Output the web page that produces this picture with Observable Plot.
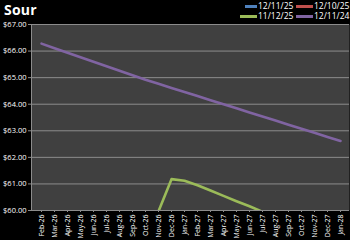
<!DOCTYPE html>
<html><head><meta charset="utf-8">
<script src="https://cdn.jsdelivr.net/npm/d3@7"></script>
<script src="https://cdn.jsdelivr.net/npm/@observablehq/plot@0.6"></script>
<style>
html,body{margin:0;padding:0;background:#000;}
#wrap{position:relative;width:350px;height:240px;background:#000;overflow:hidden;font-family:"Open Sans",sans-serif;color:#fff;}
#title{position:absolute;left:4px;top:0px;font-size:14px;font-weight:bold;letter-spacing:0.2px;}
.leg{position:absolute;font-size:8.5px;color:#fff;line-height:10px;white-space:nowrap;}
.leg span{display:inline-block;vertical-align:middle;height:2.5px;margin-right:1px;}
</style></head>
<body><div id="wrap"><div id="title">Sour</div><div id="legend"></div></div>
<script>
const months = ["Feb-26","Mar-26","Apr-26","May-26","Jun-26","Jul-26","Aug-26","Sep-26","Oct-26","Nov-26","Dec-26","Jan-27","Feb-27","Mar-27","Apr-27","May-27","Jun-27","Jul-27","Aug-27","Sep-27","Oct-27","Nov-27","Dec-27","Jan-28"];
const seriesNames = ["12/11/25","12/10/25","11/12/25","12/11/24"];
const seriesColors = ["#4f81bd","#c0504d","#9bbb59","#8064a2"];
const s121125 = months.map(() => null);
const s121025 = months.map(() => null);
const s111225 = [null,null,null,null,null,null,null,null,null,59.97,61.18,61.12,60.95,60.75,60.55,60.35,60.16,59.95,null,null,null,null,null,null];
const s121124 = [66.28,66.11,65.94,65.77,65.60,65.43,65.26,65.09,64.92,64.77,64.61,64.46,64.31,64.15,64.00,63.85,63.69,63.54,63.39,63.23,63.08,62.93,62.77,62.62];
const yTicks = [60,61,62,63,64,65,66,67];

const allSeries = [s121125, s121025, s111225, s121124];
const rows = [];
allSeries.forEach((vals, si) => vals.forEach((v, i) => rows.push({month: months[i], series: seriesNames[si], value: v})));

const chart = Plot.plot({
  width: 350, height: 240,
  marginTop: 24, marginBottom: 30, marginLeft: 31, marginRight: 1,
  style: {background: "#000", color: "#fff", fontFamily: "'Open Sans',sans-serif", fontSize: "7px"},
  x: {type: "point", domain: months, padding: 0.5, label: null, tickRotate: -90, tickSize: 2},
  y: {domain: [60, 67], ticks: yTicks, tickFormat: d => "$" + d.toFixed(2), label: null, tickSize: 3},
  color: {domain: seriesNames, range: seriesColors},
  marks: [
    Plot.frame({fill: "#404040", stroke: null}),
    Plot.ruleY(yTicks, {stroke: "#8c8c8c", strokeWidth: 1}),
    Plot.frame({anchor: "left", stroke: "#8c8c8c"}),
    Plot.line(rows, {x: "month", y: "value", z: "series", stroke: "series", strokeWidth: 2.6, clip: true}),
    Plot.axisX({tickRotate: -90, tickSize: 2, tickPadding: 2, stroke: "#8c8c8c", fill: "#fff", fontSize: 7}),
    Plot.axisY({ticks: yTicks, tickFormat: d => "$" + d.toFixed(2), tickSize: 3, tickPadding: 2, stroke: "#8c8c8c", fill: "#fff", fontSize: 7.5, label: null})
  ]
});
chart.style.position = "absolute";
chart.style.left = "0"; chart.style.top = "0";
document.getElementById("wrap").prepend(chart);
const leg = document.getElementById("legend");
const pos = [[245,1],[296,1],[240,11],[296,11]];
seriesNames.forEach((n, i) => {
  const d = document.createElement("div");
  d.className = "leg";
  d.style.left = pos[i][0] + "px"; d.style.top = pos[i][1] + "px";
  const w = i === 0 ? 12 : 17;
  d.innerHTML = `<span style="width:${w}px;background:${seriesColors[i]}"></span>${n}`;
  leg.appendChild(d);
});
</script></body></html>
